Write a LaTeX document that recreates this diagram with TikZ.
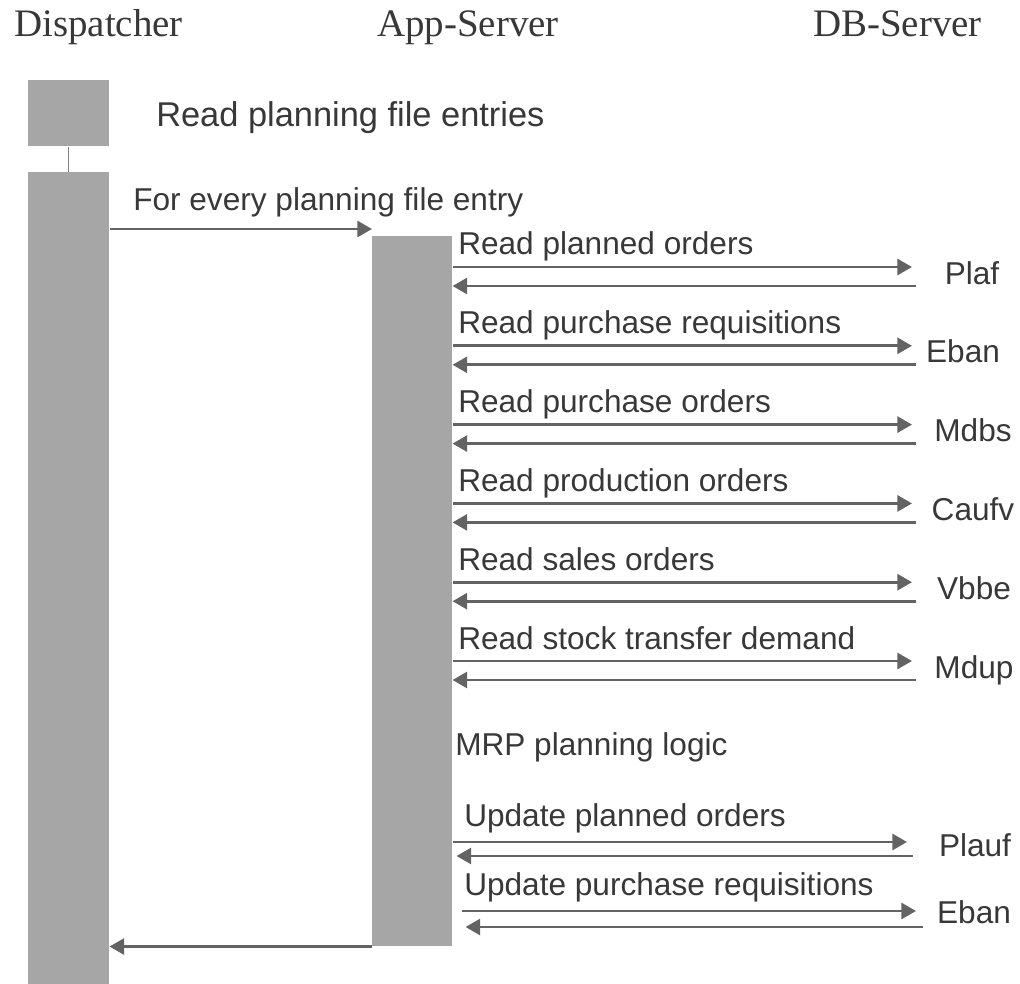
\documentclass[tikz,border=0pt]{standalone}
\usepackage{fontspec}
\setmainfont{Liberation Serif}
\setsansfont{Liberation Sans}
\usetikzlibrary{arrows.meta}

\definecolor{bargray}{HTML}{A6A6A6}
\definecolor{arrowgray}{HTML}{636363}
\definecolor{textgray}{HTML}{383838}

\tikzset{
  bar/.style={fill=bargray, draw=none, anchor=north west, inner sep=0pt},
  msg/.style={draw=arrowgray, line width=2.2pt, -{Triangle[length=11pt,width=12pt]}},
  lbl/.style={font=\sffamily\fontsize{23.7}{28}\selectfont, text=textgray, inner sep=0pt, anchor=base west},
  head/.style={font=\fontsize{29.2}{34}\selectfont, text=textgray, inner sep=0pt, anchor=base west}
}

\begin{document}
\begin{tikzpicture}[x=0.75pt,y=-0.75pt]
\useasboundingbox (0,0) rectangle (1020,984);

% lanes
\node[head] (hdisp) at (14,37) {Dispatcher};
\node[head] (happ) at (377,37) {App-Server};
\node[head] (hdb) at (813,37) {DB-Server};

% activation bars
\node[bar, minimum width=60.75pt, minimum height=49.5pt] (dtop) at (28,80) {};
\node[bar, minimum width=60.75pt, minimum height=609pt] (dmain) at (28,172) {};
\node[bar, minimum width=60pt, minimum height=532.5pt] (app) at (372,236) {};
\draw[draw=gray, line width=1pt] (dtop.south) -- (dmain.north);

\node[lbl, font=\sffamily\fontsize{25.8}{30}\selectfont] (tread) at (156,127) {Read planning file entries};
\node[lbl] (tloop) at (133,211) {For every planning file entry};
\draw[msg] (dmain.east |- 0,229) -- (app.west |- 0,229);

% reads from the db
\foreach \r/\txt/\tab/\cx [count=\i] in {267/Read planned orders/Plaf/972,
    345.8/Read purchase requisitions/Eban/963,
    424.6/Read purchase orders/Mdbs/973,
    503.4/Read production orders/Caufv/973,
    582.2/Read sales orders/Vbbe/974,
    661/Read stock transfer demand/Mdup/974}{
  \node[lbl] (t\i) at (458,\r-12) {\txt};
  \node[lbl, anchor=base] (db\i) at (\cx,\r+17) {\tab};
  \coordinate (o\i) at (912,\r);
  \coordinate (b\i) at (916,\r+19);
  \draw[msg] (app.east |- o\i) -- (o\i);
  \draw[msg] (b\i) -- (app.east |- b\i);
}

\node[lbl] (tmrp) at (455,755) {MRP planning logic};

% updates
\node[lbl] (t7) at (464,826) {Update planned orders};
\node[lbl, anchor=base] (db7) at (975,856) {Plauf};
\coordinate (o7) at (907,842);
\coordinate (b7) at (913,856);
\draw[msg] (app.east |- o7) -- (o7);
\draw[msg] (b7) -- ([xshift=3pt]app.east |- b7);

\node[lbl] (t8) at (464,895) {Update purchase requisitions};
\node[lbl, anchor=base] (db8) at (974,923) {Eban};
\coordinate (o8) at (916,911);
\coordinate (b8) at (923,927);
\draw[msg] ([xshift=6.75pt]app.east |- o8) -- (o8);
\draw[msg] (b8) -- ([xshift=9.75pt]app.east |- b8);

% back to dispatcher
\draw[msg] (app.south west) -- (dmain.east |- app.south west);
\end{tikzpicture}
\end{document}
